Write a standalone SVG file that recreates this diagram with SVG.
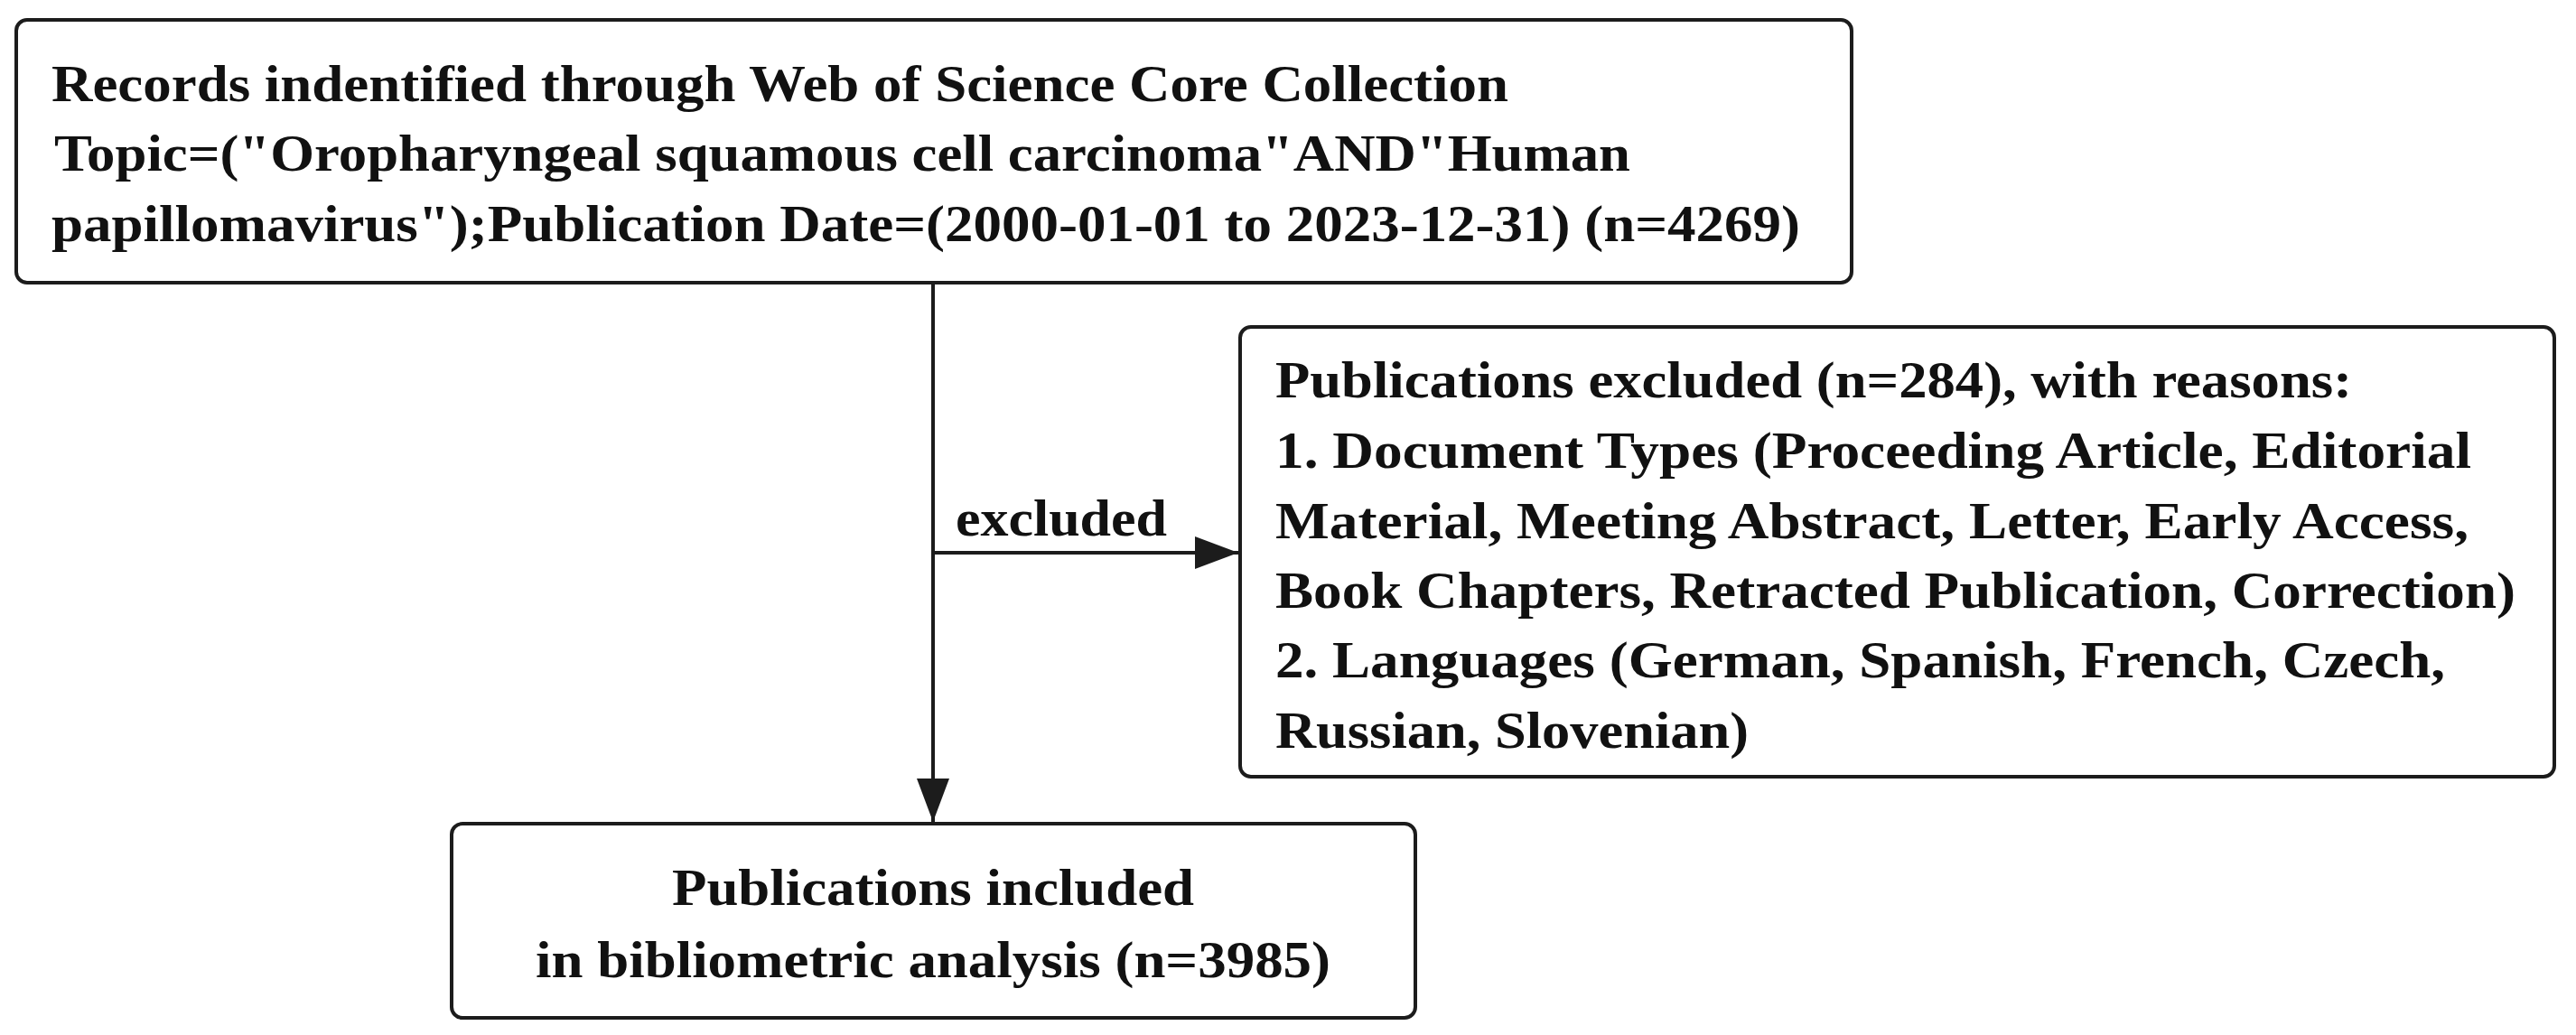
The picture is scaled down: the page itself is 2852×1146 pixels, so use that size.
<svg xmlns="http://www.w3.org/2000/svg" width="2852" height="1146" viewBox="0 0 2852 1146">
<defs>
<style>
.box{fill:#fff;stroke:#1c1c1c;stroke-width:4}
.t{font-family:"Liberation Serif","Times New Roman",serif;font-weight:bold;font-size:58px;fill:#111}
.c{text-anchor:middle}
.line{stroke:#1c1c1c;stroke-width:4;fill:none}
</style>
<marker id="arr" markerUnits="userSpaceOnUse" markerWidth="48" markerHeight="36" refX="48" refY="18" orient="auto">
<path d="M0,0 L48,18 L0,36 Z" fill="#1c1c1c"/>
</marker>
</defs>
<rect width="2852" height="1146" fill="#fff"/>
<g id="records">
<rect class="box" x="18" y="22" width="2032" height="291" rx="12"/>
<text class="t" x="57" y="112" textLength="1613" lengthAdjust="spacingAndGlyphs">Records indentified through Web of Science Core Collection</text>
<text class="t" x="60" y="189" textLength="1745" lengthAdjust="spacingAndGlyphs">Topic=("Oropharyngeal squamous cell carcinoma"AND"Human</text>
<text class="t" x="57" y="267" textLength="1936" lengthAdjust="spacingAndGlyphs">papillomavirus");Publication Date=(2000-01-01 to 2023-12-31) (n=4269)</text>
</g>
<g id="excluded">
<rect class="box" x="1373" y="362" width="1455" height="498" rx="12"/>
<text class="t" x="1412" y="440" textLength="1192" lengthAdjust="spacingAndGlyphs">Publications excluded (n=284), with reasons:</text>
<text class="t" x="1412" y="518" textLength="1324" lengthAdjust="spacingAndGlyphs">1. Document Types (Proceeding Article, Editorial</text>
<text class="t" x="1412" y="596" textLength="1321" lengthAdjust="spacingAndGlyphs">Material, Meeting Abstract, Letter, Early Access,</text>
<text class="t" x="1412" y="673" textLength="1373" lengthAdjust="spacingAndGlyphs">Book Chapters, Retracted Publication, Correction)</text>
<text class="t" x="1412" y="750" textLength="1295" lengthAdjust="spacingAndGlyphs">2. Languages (German, Spanish, French, Czech,</text>
<text class="t" x="1412" y="828" textLength="524" lengthAdjust="spacingAndGlyphs">Russian, Slovenian)</text>
</g>
<g id="included">
<rect class="box" x="500" y="912" width="1067" height="215" rx="12"/>
<text class="t c" x="1033" y="1002" textLength="578" lengthAdjust="spacingAndGlyphs">Publications included</text>
<text class="t c" x="1033" y="1082" textLength="880" lengthAdjust="spacingAndGlyphs">in bibliometric analysis (n=3985)</text>
</g>
<g id="connectors">
<line class="line" x1="1033" y1="313" x2="1033" y2="910" marker-end="url(#arr)"/>
<line class="line" x1="1033" y1="612" x2="1371" y2="612" marker-end="url(#arr)"/>
<text class="t" x="1058" y="593" textLength="234" lengthAdjust="spacingAndGlyphs">excluded</text>
</g>
</svg>
